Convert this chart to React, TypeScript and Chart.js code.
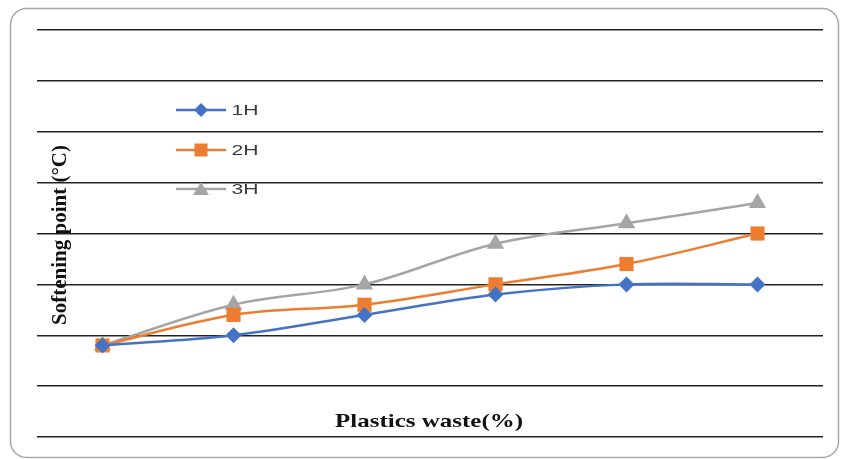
import React, { useEffect, useRef } from "react";
import { Chart, registerables } from "chart.js";

Chart.register(...registerables);

// Plastics waste content (%) on the x axis
const categories = ["0", "2", "4", "6", "8", "10"];
// Softening point (°C) for each heating duration
const series1H = [43.6, 44.0, 44.8, 45.6, 46.0, 46.0];
const series2H = [43.6, 44.8, 45.2, 46.0, 46.8, 48.0];
const series3H = [43.6, 45.2, 46.0, 47.6, 48.4, 49.2];
const seriesNames = ["1H", "2H", "3H"];
const yMin = 40;
const yMax = 56;
const yStep = 2;

const COLORS = ["#4472C4", "#ED7D31", "#A5A5A5"];
const MARKERS = ["rectRot", "rect", "triangle"];
const RADII = [8, 10, 10];

const framePlugin = {
  id: "frame",
  beforeDraw(chart: any) {
    const ctx = chart.ctx;
    ctx.save();
    ctx.fillStyle = "#ffffff";
    ctx.fillRect(0, 0, chart.width, chart.height);
    ctx.strokeStyle = "#a8a8a8";
    ctx.lineWidth = 1.5;
    ctx.beginPath();
    (ctx as any).roundRect(10.5, 8.5, 828, 449, 16);
    ctx.stroke();
    ctx.restore();
  },
};

// Draws a text string stretched horizontally to a target width
function wideText(ctx: CanvasRenderingContext2D, text: string, cx: number, cy: number, width: number) {
  const w = ctx.measureText(text).width;
  ctx.save();
  ctx.translate(cx, cy);
  ctx.scale(width / w, 1);
  ctx.textAlign = "center";
  ctx.fillText(text, 0, 0);
  ctx.restore();
}

const labelsPlugin = {
  id: "innerLabels",
  afterDatasetsDraw(chart: any) {
    const ctx = chart.ctx;
    ctx.save();
    // legend inside the plot area
    const lx = 176;
    const rows = [110, 150, 189];
    chart.data.datasets.forEach((ds: any, i: number) => {
      const y = rows[i];
      ctx.strokeStyle = ds.borderColor;
      ctx.lineWidth = 2.5;
      ctx.beginPath();
      ctx.moveTo(lx, y);
      ctx.lineTo(lx + 50, y);
      ctx.stroke();
      ctx.fillStyle = ds.backgroundColor;
      ctx.beginPath();
      const cx = lx + 25;
      if (i === 0) {
        ctx.moveTo(cx, y - 7);
        ctx.lineTo(cx + 7, y);
        ctx.lineTo(cx, y + 7);
        ctx.lineTo(cx - 7, y);
      } else if (i === 1) {
        ctx.rect(cx - 6.5, y - 6.5, 13, 13);
      } else {
        ctx.moveTo(cx, y - 7);
        ctx.lineTo(cx + 8, y + 6);
        ctx.lineTo(cx - 8, y + 6);
      }
      ctx.closePath();
      ctx.fill();
      ctx.fillStyle = "#3a3a3a";
      ctx.font = "14px 'Liberation Sans', Arial, sans-serif";
      ctx.textBaseline = "middle";
      wideText(ctx, ds.label, lx + 69, y + 1, 27);
    });
    // axis titles
    ctx.fillStyle = "#111111";
    ctx.textBaseline = "alphabetic";
    ctx.font = "bold 19px 'Liberation Serif', 'Times New Roman', serif";
    wideText(ctx, "Plastics waste(%)", 429, 427, 188);
    ctx.translate(66, 235);
    ctx.rotate(-Math.PI / 2);
    ctx.font = "bold 21px 'Liberation Serif', 'Times New Roman', serif";
    ctx.textAlign = "center";
    ctx.fillText("Softening point (°C)", 0, 0);
    ctx.restore();
  },
};

export default function App() {
  const ref = useRef<HTMLCanvasElement | null>(null);
  useEffect(() => {
    if (!ref.current) return;
    const data = [series1H, series2H, series3H];
    const chart = new Chart(ref.current, {
      type: "line",
      data: {
        labels: categories,
        datasets: data.map((d, i) => ({
          label: seriesNames[i],
          data: d,
          borderColor: COLORS[i],
          backgroundColor: COLORS[i],
          borderWidth: 2.5,
          pointStyle: MARKERS[i] as any,
          pointRadius: RADII[i],
          pointBorderWidth: 0,
          tension: 0.35,
        })),
      },
      options: {
        animation: false,
        responsive: true,
        maintainAspectRatio: false,
        layout: { padding: { left: 37, right: 20, top: 30, bottom: 22 } },
        plugins: {
          legend: { display: false },
          tooltip: { enabled: false },
          title: { display: false },
        },
        scales: {
          x: {
            offset: true,
            ticks: { display: false },
            grid: { display: false, drawTicks: false },
            border: { display: false },
          },
          y: {
            min: yMin,
            max: yMax,
            ticks: { display: false, stepSize: yStep },
            grid: { color: "#222222", lineWidth: 1.5, drawTicks: false },
            border: { display: false },
          },
        },
      },
      plugins: [framePlugin, labelsPlugin],
    });
    return () => chart.destroy();
  }, []);
  return (
    <div style={{ position: "fixed", left: 0, top: 0, width: 843, height: 459 }}>
      <canvas ref={ref} />
    </div>
  );
}
